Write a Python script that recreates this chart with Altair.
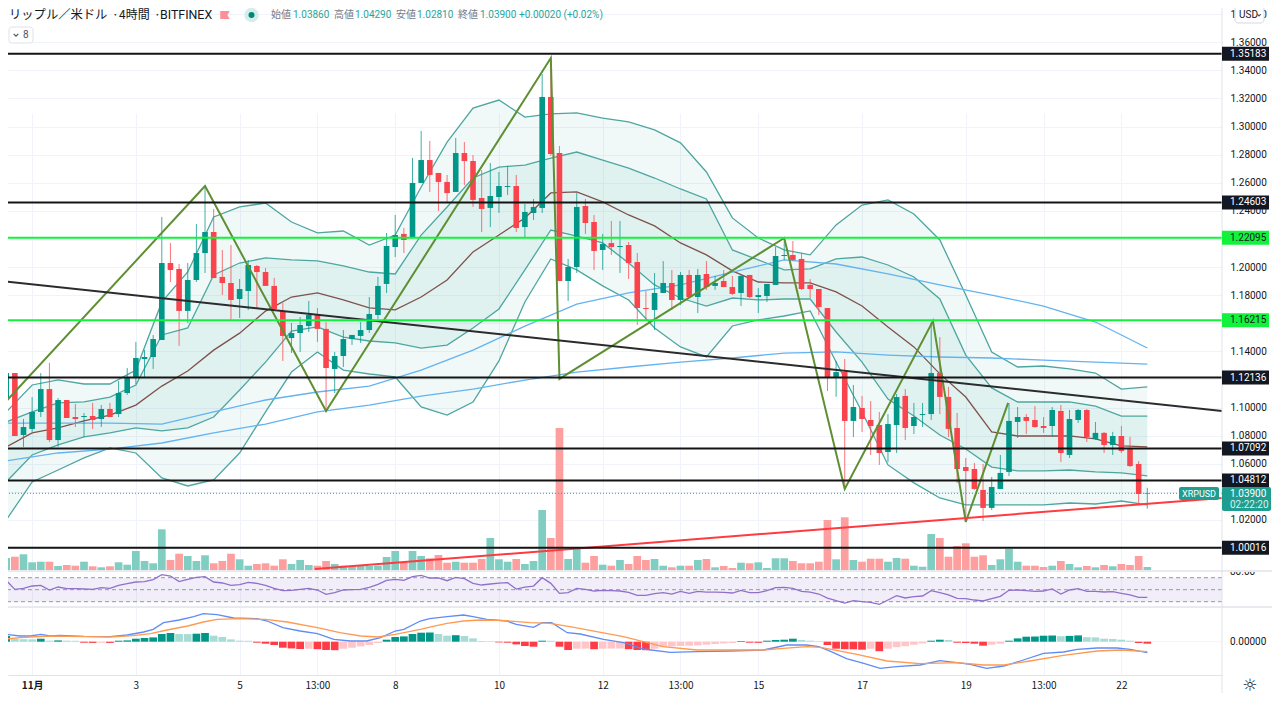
import altair as alt
import pandas as pd

FONT = "Roboto"
JP = "Noto Sans CJK JP"

opens = [1.1068,1.1246,1.0805,1.0848,1.0969,1.1132,1.0769,1.1054,1.0933,1.0933,
1.0940,1.0919,1.0990,1.0954,1.1104,1.1218,1.1346,1.1360,1.1481,1.2029,
1.1987,1.1688,1.1908,1.2100,1.2250,1.1930,1.1887,1.1773,1.1830,1.2008,
1.1965,1.1866,1.1688,1.1495,1.1531,1.1581,1.1659,1.1560,1.1275,1.1367,
1.1488,1.1510,1.1552,1.1659,1.1880,1.2143,1.2236,1.2207,1.2599,1.2762,
1.2670,1.2606,1.2535,1.2812,1.2755,1.2492,1.2421,1.2499,1.2570,1.2577,
1.2285,1.2385,1.2421,1.3211,1.2812,1.1901,1.2001,1.2435,1.2321,1.2122,
1.2171,1.2143,1.2157,1.2036,1.1709,1.1695,1.1816,1.1887,1.1766,1.1944,
1.1787,1.1951,1.1866,1.1901,1.1858,1.1816,1.1944,1.1787,1.1794,1.1873,
1.2079,1.2086,1.2058,1.1873,1.1844,1.1709,1.1218,1.1253,1.0905,1.0997,
1.0912,1.0876,1.0684,1.0876,1.1083,1.0869,1.0947,1.0954,1.1246,1.1076,
1.0855,1.0577,1.0563,1.0414,1.0286,1.0421,1.0542,1.0898,1.0933,1.0912,
1.0869,1.0869,1.0976,1.0663,1.0912,1.0983,1.0777,1.0820,1.0734,1.0798,
1.0705,1.0599,1.0386]
closes = [1.1246,1.0798,1.0862,1.0969,1.1132,1.0769,1.1054,1.0926,1.0919,1.0940,
1.0912,1.0990,1.0933,1.1104,1.1218,1.1353,1.1360,1.1488,1.2029,1.1979,
1.1688,1.1908,1.2100,1.2250,1.1922,1.1887,1.1766,1.1844,1.2015,1.1965,
1.1866,1.1702,1.1510,1.1531,1.1588,1.1659,1.1560,1.1282,1.1367,1.1488,
1.1517,1.1552,1.1666,1.1866,1.2150,1.2228,1.2193,1.2599,1.2762,1.2656,
1.2606,1.2527,1.2812,1.2755,1.2478,1.2414,1.2506,1.2577,1.2577,1.2278,
1.2392,1.2428,1.3211,1.2805,1.1901,1.2001,1.2428,1.2314,1.2115,1.2164,
1.2143,1.2150,1.2029,1.1709,1.1702,1.1816,1.1887,1.1766,1.1944,1.1787,
1.1944,1.1858,1.1887,1.1858,1.1809,1.1937,1.1787,1.1801,1.1880,1.2079,
1.2086,1.2051,1.1844,1.1844,1.1716,1.1218,1.1253,1.0905,1.1004,1.0919,
1.0869,1.0677,1.0883,1.1075,1.0855,1.0933,1.0954,1.1246,1.1076,1.0848,
1.0563,1.0549,1.0421,1.0286,1.0435,1.0535,1.0905,1.0933,1.0905,1.0862,
1.0855,1.0983,1.0677,1.0919,1.0983,1.0791,1.0820,1.0734,1.0798,1.0691,
1.0584,1.0385,1.0390]
highs = [1.1538,1.1246,1.0919,1.1075,1.1246,1.1318,1.1068,1.1054,1.1026,1.0961,
1.1033,1.1019,1.1033,1.1189,1.1282,1.1467,1.1410,1.1517,1.2357,1.2171,
1.2022,1.2029,1.2307,1.2570,1.2414,1.2122,1.2157,1.1915,1.2051,1.2015,
1.1994,1.1923,1.1745,1.1602,1.1645,1.1759,1.1709,1.1609,1.1396,1.1552,
1.1517,1.1609,1.1787,1.1930,1.2243,1.2371,1.2278,1.2777,1.2969,1.2898,
1.2670,1.2656,1.2919,1.2890,1.2798,1.2691,1.2741,1.2677,1.2720,1.2656,
1.2449,1.2485,1.3374,1.3488,1.2862,1.2058,1.2527,1.2485,1.2371,1.2236,
1.2328,1.2328,1.2179,1.2100,1.1830,1.1958,1.2043,1.1979,1.1965,1.1979,
1.1987,1.2043,1.1937,1.1979,1.1937,1.1944,1.1944,1.1851,1.1880,1.2143,
1.2200,1.2186,1.2100,1.1915,1.1844,1.1709,1.1332,1.1346,1.1161,1.1083,
1.1047,1.0969,1.0954,1.1097,1.1132,1.1033,1.1033,1.1609,1.1502,1.1147,
1.0962,1.0641,1.0606,1.0599,1.0506,1.0663,1.1033,1.1004,1.0954,1.1011,
1.0933,1.1004,1.1019,1.0983,1.0990,1.0990,1.0898,1.0827,1.0827,1.0869,
1.0791,1.0620,1.0429]
lows = [1.1068,1.0798,1.0720,1.0827,1.0933,1.0755,1.0720,1.0926,1.0862,1.0791,
1.0848,1.0862,1.0933,1.0933,1.1090,1.1168,1.1218,1.1275,1.1481,1.1894,
1.1439,1.1602,1.1894,1.1958,1.1922,1.1801,1.1624,1.1638,1.1695,1.1709,
1.1866,1.1695,1.1332,1.1389,1.1396,1.1538,1.1467,1.0969,1.1104,1.1289,
1.1446,1.1460,1.1531,1.1631,1.1816,1.2072,1.2100,1.2207,1.2599,1.2535,
1.2399,1.2463,1.2535,1.2584,1.2428,1.2250,1.2285,1.2385,1.2513,1.2250,
1.2207,1.2335,1.2385,1.2791,1.1901,1.1759,1.1958,1.2236,1.1979,1.1979,
1.2086,1.1958,1.1915,1.1588,1.1624,1.1552,1.1816,1.1695,1.1730,1.1780,
1.1673,1.1837,1.1837,1.1858,1.1801,1.1723,1.1780,1.1673,1.1752,1.1873,
1.2051,1.2044,1.1837,1.1780,1.1659,1.1118,1.1076,1.0428,1.0791,1.0827,
1.0663,1.0592,1.0613,1.0677,1.0769,1.0812,1.0862,1.0912,1.0954,1.0791,
1.0464,1.0214,1.0414,1.0193,1.0271,1.0421,1.0513,1.0784,1.0812,1.0855,
1.0820,1.0791,1.0613,1.0641,1.0891,1.0755,1.0770,1.0677,1.0663,1.0677,
1.0577,1.0307,1.0281]
volumes = [12,13.3,15.7,7.7,8.3,8.3,4,5,4.3,8.3,
3.7,2.7,3.7,7.7,5.3,19,9,6.7,40.7,10,
16.3,14,9,14.7,6.7,9,16.3,10.7,4.3,6,
6.7,4.3,10.7,6,10,5,4.3,9,6,4.3,
3.5,4.7,4,4.3,13,19,7.7,19,14,11.7,
15,7.3,8.3,7.3,7.3,11,32,10.7,8.3,11,
6,9,60,32,142,11,22.7,7.3,14,5.3,
4.3,10,6,14,10,11,4.3,2.7,4.3,4.3,
10,11,2.7,4,2,7.3,6.7,7.7,2,11.7,
11.7,9,6.7,6.7,8.3,50,10.7,52.7,10,8.3,
11.3,11.3,8.3,12,11.3,4.3,3.3,36,32,13.3,
24,26.7,13.3,14.7,5,10.7,21,8.3,4.3,4.3,
3,4.3,9,6,2.7,4,2.7,5,3.7,6,
5,14,3]

band_bars = list(range(0, 133, 3))
band_u2 = [1.0969,1.1161,1.1197,1.1168,1.1168,1.1267,1.1752,1.1965,1.2357,1.2428,1.2456,1.2321,1.2243,1.2257,1.2157,1.2228,1.2570,1.2890,1.3132,1.3189,1.3068,1.3090,1.3097,1.3061,1.3033,1.2976,1.2884,1.2677,1.2350,1.2207,1.2122,1.2087,1.2300,1.2442,1.2478,1.2378,1.2193,1.1801,1.1396,1.1289,1.1296,1.1275,1.1246,1.1132,1.1147]
band_u1 = [1.0898,1.0969,1.1033,1.1040,1.1075,1.1161,1.1517,1.1567,1.1944,1.2029,1.2065,1.2051,1.2044,1.2008,1.1965,1.1951,1.2228,1.2428,1.2634,1.2712,1.2726,1.2776,1.2819,1.2762,1.2705,1.2634,1.2556,1.2485,1.2122,1.2051,1.1980,1.1987,1.2058,1.2072,1.2015,1.1930,1.1773,1.1374,1.1140,1.1040,1.1040,1.1040,1.1011,1.0940,1.0940]
band_mid = [1.0720,1.0820,1.0855,1.0905,1.0947,1.1018,1.1153,1.1260,1.1409,1.1530,1.1687,1.1787,1.1816,1.1766,1.1709,1.1695,1.1787,1.1908,1.2108,1.2228,1.2350,1.2528,1.2535,1.2464,1.2371,1.2293,1.2172,1.2087,1.1973,1.1894,1.1887,1.1887,1.1823,1.1723,1.1574,1.1432,1.1240,1.1075,1.0827,1.0798,1.0798,1.0798,1.0777,1.0727,1.0720]
band_l1 = [1.0471,1.0663,1.0734,1.0791,1.0820,1.0855,1.0834,1.0855,1.0933,1.1125,1.1324,1.1545,1.1574,1.1502,1.1474,1.1460,1.1424,1.1445,1.1567,1.1702,1.1980,1.2264,1.2221,1.2172,1.2029,1.1873,1.1780,1.1723,1.1780,1.1766,1.1773,1.1773,1.1538,1.1324,1.1061,1.0940,1.0805,1.0705,1.0577,1.0549,1.0549,1.0556,1.0542,1.0535,1.0514]
band_l2 = [1.0200,1.0471,1.0556,1.0642,1.0713,1.0677,1.0499,1.0442,1.0485,1.0677,1.0969,1.1253,1.1396,1.1267,1.1239,1.1218,1.1005,1.0947,1.1040,1.1332,1.1752,1.2058,1.1980,1.1866,1.1766,1.1567,1.1432,1.1361,1.1581,1.1624,1.1652,1.1688,1.1324,1.0969,1.0592,1.0464,1.0357,1.0307,1.0307,1.0307,1.0307,1.0321,1.0314,1.0335,1.0307]

ma_bars = list(range(0, 133, 6))
ma_a = [1.0890,1.0890,1.0890,1.0883,1.0969,1.1054,1.1111,1.1153,1.1267,1.1409,1.1580,1.1737,1.1816,1.1873,1.1965,1.2051,1.2022,1.1951,1.1873,1.1801,1.1723,1.1609,1.1424]
ma_b = [1.0620,1.0677,1.0705,1.0748,1.0820,1.0883,1.0969,1.1018,1.1082,1.1132,1.1196,1.1253,1.1289,1.1324,1.1353,1.1388,1.1396,1.1374,1.1360,1.1353,1.1338,1.1324,1.1310]

zig_bars = [-0.72,23,37,63,64,90,97,107.2,111,115.9]
zig_price = [1.0997,1.2577,1.0976,1.3488,1.1204,1.2207,1.0421,1.1616,1.0186,1.1033]
black_bars = [-0.72,140.64]
black_price = [1.1901,1.0976]
red_bars = [35.7,140.64]
red_price = [0.9851,1.0357]

black_levels = [1.35183,1.24603,1.12136,1.07092,1.04812,1.00016]
green_levels = [1.22095,1.16215]
last_price = 1.03900

rsi = [65.6,50.6,52.3,56.2,57.3,49.5,54.5,51.7,51.7,51.2,
50.6,53.4,52.3,57.3,60,62.8,63.4,66.7,75,72.8,
63.4,67.3,70.6,71.7,62.8,61.2,57.3,58.4,62.3,60.6,
57.3,52.3,48.4,48.9,50.6,52.3,49.5,42.3,45,49.5,
50,50.6,54,58.9,65.6,67.3,65.6,71.7,74,69.5,
69.5,65,70.6,68.3,60.6,57.8,59.5,61.1,61.7,51.1,
54.4,56.1,70,60.6,43.9,45,52.2,50.6,47.8,48.9,
48.3,47.8,45.6,40.6,40.6,43.3,45,42.8,47.2,43.9,
47.2,46.1,46.1,45.6,44.5,48.9,45,45,48.3,53.3,
53.9,52.2,47.2,46.1,42.8,36,31.7,27.8,31.7,30,
28.9,25.6,32.8,40,36.2,38.4,39.5,48.4,45,41.2,
35.6,35,32.8,31.2,35,38.9,49,49.5,48.4,47.3,
47.8,51.2,42.8,49.5,51.7,47.3,47.3,46.2,46.7,44,
41.2,37.3,37.3]

# MACD values, thousandths of a dollar
hist = [5.7,3,2.5,2.3,3,1,1.3,1,.9,-1,
-1.2,-1,-1.2,1,1.3,3,3.7,4.3,7.7,8.7,
7.7,7.6,8,8.7,6,4.7,2.3,1,.9,-1,
-2,-3.3,-6,-6.7,-7.3,-7,-7.5,-8.3,-8.5,-7,
-6,-4.7,-3.3,-1.3,2,4.7,5.3,7.7,9,9.2,
7.7,6,6.5,5.7,3.3,.7,.5,-.7,-1,-2.7,
-4.3,-5,1,.9,-5,-8.3,-7,-6.9,-7.5,-7,
-6.9,-6.8,-7.5,-8.3,-8.5,-7,-5.5,-4.7,-4.3,-4,
-3.7,-3,-2.3,-1.7,-1.3,.7,-1,-1.1,1,1.7,
2,3,1.7,1,.5,-3.3,-7,-7.5,-7.6,-8,
-7,-9.5,-7,-5.5,-4.5,-3,-1.7,1,2,1.7,
-1,-1.3,-2,-4,-3,-2,1,3.3,5,5.2,
6,6.2,5.5,5.8,6.3,4.5,4.3,3,2.7,2,
1,-1.3,-2]
macd_bars = [-0.7,0,1.6,2.8,4,5.1,6.2,9,12,14,15.9,17,18.2,20,21.7,22.8,24.4,26.3,29,30.2,32,34,36,37.9,39.8,41.7,43.3,45,46,47.9,49,51,52.9,54,55.6,57.9,59,61,62,63.1,64.9,66.4,69.1,71.4,73.7,76.8,79.9,83.7,87.6,90.3,92.6,94,95.3,97.2,99.2,101.1,103,105.7,108,110,111.5,113.4,115.4,117.3,120,122.3,123.9,126.2,128.5,130,132]
macd_vals = [5.7,7.3,5.7,5.7,7.3,5.7,6.3,5.3,5,6.7,9.7,12.3,19,21.7,25,28,27,23.7,23,20.7,14,10.7,8,2.3,.7,.7,4,10.7,12.3,20.7,23,25,26.7,25,22.3,20.7,17.3,14.3,19,19,9,7.7,2.3,-1,-7.3,-10.7,-10,-9.3,-8.3,-3.3,-3.3,-5,-9.5,-17,-21.7,-26.7,-25,-23.3,-19,-21,-22.7,-26.7,-24.3,-19.3,-11.7,-10.3,-7.7,-6.3,-6.3,-7.7,-11]
sig_bars = [-0.7,1.6,5,9,12,14.7,16.7,18.6,21,22.8,24.4,27,30,32.5,36,38.6,41,43,45,47.9,49,51,52.9,54.8,57.9,60.6,62.9,65.2,68.3,71.4,73.7,76,79.9,83.7,87.6,89.9,92.6,94.2,95.3,98.4,101.9,105.7,110,113,115.4,118.4,122.3,126.2,128.9,132]
sig_vals = [2.3,4,5.7,5,4.7,6,8,11.7,15.7,19.7,22.3,23,22.3,19.7,14,9,5.7,4.7,7.3,12.3,14.5,18.3,20.7,21.7,21,19,18.3,15,10,5,0,-5,-8.3,-8.3,-8.3,-6.7,-5,-5.7,-7.5,-12.7,-19.3,-22,-21,-23.3,-23.3,-19.3,-13.7,-9.3,-8.3,-10]

x_labels = {3:"11月",15:"3",27:"5",36:"13:00",45:"8",57:"10",69:"12",78:"13:00",87:"15",99:"17",111:"19",120:"13:00",129:"22"}
price_ticks = [1.00 + 0.02*k for k in range(20)]
ticks_under_tags = ["1.00","1.04","1.12","1.16","1.22"]

title_bits = [("リップル／米ドル",9,12.3,JP),("·",112,12,JP),("4時間",119,12,JP),("·",154,12,JP),("BITFINEX",160,12.4,FONT)]
ohlc_bits = [("始値",271,0),("1.03860",293,1),("高値",334,0),("1.04290",355,1),("安値",396,0),("1.02810",417,1),("終値",458,0),("1.03900",480,1),("+0.00020 (+0.02%)",519,1)]

# ---------------- scales
W, H = 1214, 667
bars = list(range(len(opens)))
X_SCALE = alt.Scale(domain=[0.208, 140.64], range=[0, W], nice=False, zero=False)
PRICE = alt.Scale(domain=[0.98441, 1.38441], range=[562, 0], nice=False, zero=False)
VOL = alt.Scale(domain=[0, 142], range=[562, 420], nice=False, zero=False)
RSI = alt.Scale(domain=[30, 70], range=[593.7, 569.7], nice=False, zero=False)
MACD = alt.Scale(domain=[-30, 30], range=[663.7, 603.7], nice=False, zero=False)

label_expr = "{" + ",".join(f"'{k}':'{v}'" for k, v in x_labels.items()) + "}[datum.value]"
X_AXIS = alt.Axis(values=list(x_labels), labelExpr=label_expr, title=None, grid=True, gridColor="#f0f3fa",
                  gridWidth=1, ticks=False, domainColor="#e0e3eb", domainWidth=1, labelFont=JP, labelFontSize=10,
                  labelColor="#131722", labelPadding=5, labelOverlap=False, labelFlush=False,
                  labelFontWeight={"condition": {"test": "datum.value === 3", "value": "bold"}, "value": "normal"})
hidden = "[" + ",".join(f"'{t}'" for t in ticks_under_tags) + "]"
Y_AXIS = alt.Axis(orient="right", values=price_ticks, title=None, grid=True, gridColor="#f0f3fa",
                  labelExpr=f"indexof({hidden}, format(datum.value, '.2f')) >= 0 ? '' : format(datum.value, '.5f')",
                  gridWidth=1, ticks=False, domain=False, labelFont=FONT, labelFontSize=10, labelColor="#131722",
                  labelPadding=8, labelOverlap=False)

def X(field="i"):
    return alt.X(f"{field}:Q", scale=X_SCALE, axis=X_AXIS, title=None)

def Y(field, scale=PRICE, axis=None):
    return alt.Y(f"{field}:Q", scale=scale, axis=axis, title=None)

TEAL = "#009688"
RED = "#f9444d"
layers = []

# ---------------- Bollinger bands
bands = pd.DataFrame(dict(i=band_bars, u2=band_u2, u1=band_u1, m=band_mid, l1=band_l1, l2=band_l2))
layers.append(alt.Chart(bands).mark_area(color="#26a69a", opacity=0.07).encode(
    x=X(), y=Y("u2", axis=Y_AXIS), y2="l2:Q"))
layers.append(alt.Chart(bands).mark_area(color="#26a69a", opacity=0.08).encode(
    x=X(), y=Y("u1"), y2="l1:Q"))
for f in ["u2", "u1", "l1", "l2"]:
    layers.append(alt.Chart(bands).mark_line(color="#4da6a0", strokeWidth=1.3).encode(x=X(), y=Y(f)))
layers.append(alt.Chart(bands).mark_line(color="#80514c", strokeWidth=1.3).encode(x=X(), y=Y("m")))

# ---------------- long moving averages
mas = pd.DataFrame(dict(i=ma_bars, a=ma_a, b=ma_b))
for f in ["a", "b"]:
    layers.append(alt.Chart(mas).mark_line(color="#63b3f0", strokeWidth=1.3).encode(x=X(), y=Y(f)))

# ---------------- volume
candles = pd.DataFrame(dict(i=bars, o=opens, h=highs, l=lows, c=closes, v=volumes))
candles["d"] = ["up" if c >= o else "down" for o, c in zip(opens, closes)]
candles["zero"] = 0
layers.append(alt.Chart(candles).mark_rule(strokeWidth=7.7).encode(
    x=X(), y=Y("v", VOL), y2="zero:Q",
    color=alt.Color("d:N", scale=alt.Scale(domain=["up", "down"], range=["#80cdc2", "#fd9f9f"]), legend=None)))

# ---------------- candles
CAND = alt.Scale(domain=["up", "down"], range=[TEAL, RED])
layers.append(alt.Chart(candles).mark_rule(strokeWidth=1, opacity=0.75, clip=True).encode(
    x=X(), y=Y("h"), y2="l:Q", color=alt.Color("d:N", scale=CAND, legend=None)))
layers.append(alt.Chart(candles).mark_rule(strokeWidth=5.6, clip=True).encode(
    x=X(), y=Y("o"), y2="c:Q", color=alt.Color("d:N", scale=CAND, legend=None)))

# ---------------- drawings
zig = pd.DataFrame(dict(i=zig_bars, p=zig_price))
layers.append(alt.Chart(zig).mark_line(color="#5f8f33", strokeWidth=2, clip=True).encode(x=X(), y=Y("p")))
blk = pd.DataFrame(dict(i=black_bars, p=black_price))
layers.append(alt.Chart(blk).mark_line(color="#2b2b2b", strokeWidth=2, clip=True).encode(x=X(), y=Y("p")))
red = pd.DataFrame(dict(i=red_bars, p=red_price))
layers.append(alt.Chart(red).mark_line(color="#ff3b3f", strokeWidth=2, clip=True).encode(x=X(), y=Y("p")))

lv_black = pd.DataFrame(dict(p=black_levels))
lv_green = pd.DataFrame(dict(p=green_levels))
lv_last = pd.DataFrame(dict(p=[last_price]))
layers.append(alt.Chart(lv_green).mark_rule(color="#12f23c", strokeWidth=2).encode(y=Y("p")))
layers.append(alt.Chart(lv_black).mark_rule(color="#141414", strokeWidth=2).encode(y=Y("p")))
layers.append(alt.Chart(lv_last).mark_rule(color="#26a69a", strokeWidth=1, strokeDash=[1, 2]).encode(y=Y("p")))

# ---------------- RSI pane
rsi_df = pd.DataFrame(dict(i=bars, r=rsi))
rsi_bg = pd.DataFrame(dict(a=[70], b=[30]))
layers.append(alt.Chart(rsi_bg).mark_rect(color="#7e57c2", opacity=0.1).encode(
    x=alt.value(0), x2=alt.value(W), y=Y("a", RSI), y2="b:Q"))
layers.append(alt.Chart(pd.DataFrame(dict(r=[70, 50, 30]))).mark_rule(
    color="#9598a1", strokeWidth=1, strokeDash=[4, 3]).encode(y=Y("r", RSI)))
layers.append(alt.Chart(rsi_df).mark_line(color="#9170c9", strokeWidth=1.3).encode(x=X(), y=Y("r", RSI)))

# ---------------- MACD pane
tone = []
for k, v in enumerate(hist):
    prev = hist[k - 1] if k else 0
    if v >= 0:
        tone.append("G" if v > prev else "g")
    else:
        tone.append("R" if v < prev else "r")
macd_df = pd.DataFrame(dict(i=bars, v=hist, t=tone, zero=0))
layers.append(alt.Chart(pd.DataFrame(dict(z=[0]))).mark_rule(color="#f0f3fa", strokeWidth=1).encode(y=Y("z", MACD)))
layers.append(alt.Chart(macd_df).mark_rule(strokeWidth=7.7).encode(
    x=X(), y=Y("v", MACD), y2="zero:Q",
    color=alt.Color("t:N", scale=alt.Scale(domain=["G", "g", "R", "r"], range=[TEAL, "#a7dbd4", "#ff3b45", "#ffc5c8"]), legend=None)))
layers.append(alt.Chart(pd.DataFrame(dict(i=macd_bars, v=macd_vals))).mark_line(
    color="#5f8cf5", strokeWidth=1.3, clip=True).encode(x=X(), y=Y("v", MACD)))
layers.append(alt.Chart(pd.DataFrame(dict(i=sig_bars, v=sig_vals))).mark_line(
    color="#ff9a52", strokeWidth=1.3, clip=True).encode(x=X(), y=Y("v", MACD)))

# ---------------- pane frames
def hline(py, color="#e8eaf0", w=2, x0=0, x1=1264):
    return alt.Chart(pd.DataFrame(dict(k=[0]))).mark_rule(color=color, strokeWidth=w).encode(
        x=alt.value(x0), x2=alt.value(x1), y=alt.value(py))

def note(text, px, py, color="#131722", size=10, align="left", font=FONT, weight="normal"):
    return alt.Chart(pd.DataFrame(dict(t=[text]))).mark_text(
        color=color, fontSize=size, align=align, baseline="middle", font=font, fontWeight=weight).encode(
        x=alt.value(px - 8), y=alt.value(py - 8), text="t:N")

def box(x0, x1, y0, y1, fill, stroke=None, r=3):
    kw = dict(fill=fill, cornerRadius=r)
    if stroke:
        kw.update(stroke=stroke, strokeWidth=1)
    return alt.Chart(pd.DataFrame(dict(k=[0]))).mark_rect(**kw).encode(
        x=alt.value(x0 - 8), x2=alt.value(x1 - 8), y=alt.value(y0 - 8), y2=alt.value(y1 - 8))

layers.append(note("80.00", 1230, 572))
layers.append(alt.Chart(pd.DataFrame(dict(k=[0]))).mark_rule(color="white", strokeWidth=7).encode(
    x=alt.value(W + 1), x2=alt.value(1264), y=alt.value(560)))
layers.append(hline(563))
layers.append(hline(599))
layers.append(alt.Chart(pd.DataFrame(dict(k=[0]))).mark_rule(color="#e0e3eb", strokeWidth=1).encode(
    x=alt.value(W), y=alt.value(0), y2=alt.value(H + 18)))
layers.append(note("0.00000", 1230, 642))

# ---------------- price tags
for df_, fill, ink in [(lv_black, "#131722", "white"), (lv_green, "#12f23c", "#131722")]:
    layers.append(alt.Chart(df_).mark_rule(color=fill, strokeWidth=14).encode(
        x=alt.value(W), x2=alt.value(1261), y=Y("p")))
    layers.append(alt.Chart(df_).mark_text(color=ink, fontSize=10, align="left", baseline="middle", font=FONT).encode(
        x=alt.value(W + 8), y=Y("p"), text=alt.Text("p:Q", format=".5f")))

layers.append(box(1179, 1219, 487, 500, "#1f9e8f", r=2))
layers.append(note("XRPUSD", 1199, 493.5, "white", 9, "center"))
layers.append(box(1222, 1271, 487, 511, "#1f9e8f", r=2))
layers.append(note("1.03900", 1230, 493.5, "white", 10))
layers.append(note("02:22:20", 1230, 505, "#d8f2ee", 10))

# ---------------- header
for text, px, size, font in title_bits:
    layers.append(note(text, px, 15, "#131722", size, font=font))
layers.append(alt.Chart(pd.DataFrame(dict(k=[0]))).mark_point(
    shape="M-1,-0.85 L1,-0.85 L0.5,0 L1,0.85 L-1,0.85 Z", filled=True, color="#fd8f95", opacity=1, size=90).encode(
    x=alt.value(225 - 8), y=alt.value(15 - 8)))
layers.append(alt.Chart(pd.DataFrame(dict(k=[0]))).mark_point(filled=True, color="#d5eeea", opacity=1, size=210).encode(
    x=alt.value(251.5 - 8), y=alt.value(15 - 8)))
layers.append(alt.Chart(pd.DataFrame(dict(k=[0]))).mark_point(filled=True, color="#00897b", opacity=1, size=36).encode(
    x=alt.value(251.5 - 8), y=alt.value(15 - 8)))
for text, px, is_val in ohlc_bits:
    layers.append(note(text, px, 15, "#26a69a" if is_val else "#787b86", 10, font=FONT if is_val else JP))

CHEVRON = "M-1,-0.5 L0,0.5 L1,-0.5"
layers.append(box(9, 33, 27, 43, "white", "#dfe2ea"))
layers.append(alt.Chart(pd.DataFrame(dict(k=[0]))).mark_point(
    shape=CHEVRON, filled=False, color="#50535e", strokeWidth=1.2, opacity=1, size=22).encode(
    x=alt.value(16 - 8), y=alt.value(35 - 8)))
layers.append(note("8", 23, 35, "#50535e", 10))

layers.append(box(1235, 1264, 6, 23, "white", "#d6d9e2"))
layers.append(note("USD", 1239, 14.5, "#131722", 10))
layers.append(alt.Chart(pd.DataFrame(dict(k=[0]))).mark_point(
    shape=CHEVRON, filled=False, color="#50535e", strokeWidth=1.2, opacity=1, size=12).encode(
    x=alt.value(1259 - 8), y=alt.value(15 - 8)))

# gear at the axis corner
layers.append(note("☼", 1250, 686, "#131722", 17, "center", font="DejaVu Sans"))

chart = (
    alt.layer(*layers)
    .resolve_scale(y="independent", color="independent")
    .properties(width=W, height=H, padding={"left": 0, "top": 0, "right": 50, "bottom": 18},
                autosize=alt.AutoSizeParams(type="none"), background="white")
    .configure_view(stroke=None)
)
chart.save("out.html", embed_options={"renderer": "svg", "actions": False})
